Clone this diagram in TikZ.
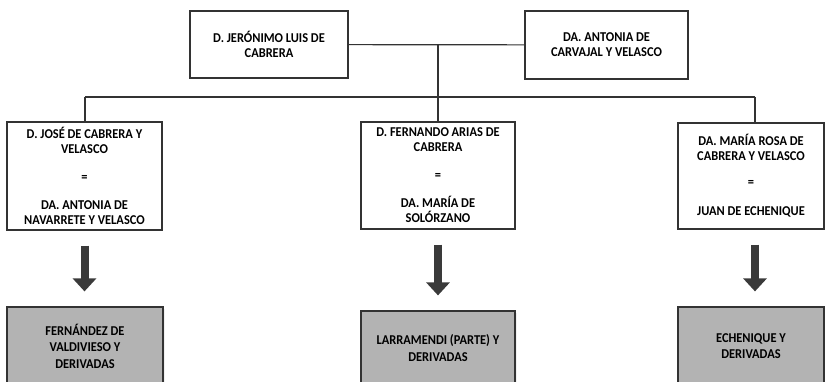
\documentclass[tikz,border=0pt]{standalone}
\usepackage{fontspec}
\setmainfont{Carlito}[FakeStretch=0.92]
\usetikzlibrary{arrows.meta,shadows}

\definecolor{linegray}{HTML}{333333}
\definecolor{boxgray}{HTML}{B3B3B3}
\definecolor{arrowgray}{HTML}{3A3A3A}

\begin{document}
\begin{tikzpicture}[x=1pt,y=-1pt,
    link/.style={draw=linegray, line width=1.2pt},
    bigarrow/.style={draw=arrowgray, line width=8pt, -{Triangle[width=23pt,length=13pt]}}]

        \useasboundingbox (0,0) rectangle (825,382);

        \begin{scope}[every node/.style={draw=linegray, line width=1.2pt, fill=white,
            align=center, font=\bfseries\fontsize{13.5}{15}\selectfont}]
          \node[minimum width=158pt, minimum height=67pt]  (jeronimo) at (269,44.5) {D. JERÓNIMO LUIS DE\\CABRERA};
          \node[minimum width=163pt, minimum height=68pt]  (antonia)  at (606.5,45) {DA. ANTONIA DE\\CARVAJAL Y VELASCO};
          \node[minimum width=155pt, minimum height=108pt] (jose)     at (84.5,176) {D. JOSÉ DE CABRERA Y\\VELASCO\\[13pt]=\\[13pt]DA. ANTONIA DE\\NAVARRETE Y VELASCO};
          \node[minimum width=154pt, minimum height=107pt] (fernando) at (438,175.5) {D. FERNANDO ARIAS DE\\CABRERA\\[13pt]=\\[13pt]DA. MARÍA DE\\SOLÓRZANO};
          \node[minimum width=146pt, minimum height=106pt] (maria)    at (751,176) {DA. MARÍA ROSA DE\\CABRERA Y VELASCO\\[11pt]=\\[14pt]JUAN DE ECHENIQUE};
        \end{scope}

        \begin{scope}[every node/.style={draw=linegray, line width=1.2pt, fill=boxgray,
            align=center, font=\bfseries\fontsize{13.5}{16.5}\selectfont,
            drop shadow={opacity=0.12, shadow xshift=1.5pt, shadow yshift=-1.5pt}}]
          \node[minimum width=156pt, minimum height=78pt] (fernandez)  at (85,346)  {FERNÁNDEZ DE\\VALDIVIESO Y\\DERIVADAS};
          \node[minimum width=154pt, minimum height=74pt] (larramendi) at (438,348) {LARRAMENDI (PARTE) Y\\DERIVADAS};
          \node[minimum width=146pt, minimum height=78pt] (echenique)  at (751,346) {ECHENIQUE Y\\DERIVADAS};
        \end{scope}

        \coordinate (union) at (438,45);
        \coordinate (barL)  at (85,97);
        \coordinate (barR)  at (755,97);

        \path[link] (jeronimo) edge (antonia);
        \path[link] (union) edge (fernando.north);
        \path[link] (jose.north -| barL) edge (barL);
        \path[link] (barL) edge (barR);
        \path[link] (barR) edge (maria.north -| barR);

        \draw[bigarrow] ([yshift=-15pt]jose.south)     -- ([yshift=15pt]fernandez.north -| jose.south);
        \draw[bigarrow] ([yshift=-15pt]fernando.south) -- ([yshift=15pt]larramendi.north);
        \draw[bigarrow] ([yshift=-15pt]maria.south -| barR) -- ([yshift=15pt]echenique.north -| barR);

      \end{tikzpicture}
\end{document}
